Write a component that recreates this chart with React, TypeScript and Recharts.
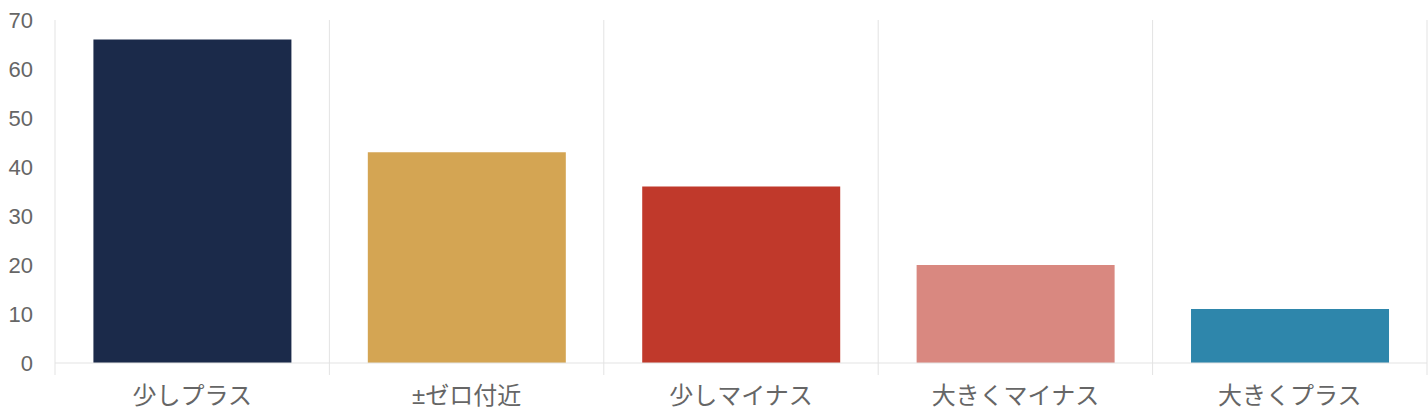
import React from 'react';
import { BarChart, Bar, XAxis, YAxis, CartesianGrid, Cell } from 'recharts';

const categories = ['少しプラス', '±ゼロ付近', '少しマイナス', '大きくマイナス', '大きくプラス'];
const counts = [66, 43, 36, 20, 11];
const colors = ['#1b2a4a', '#d4a553', '#c0392b', '#d98880', '#2e86ab'];
const yTicks = [0, 10, 20, 30, 40, 50, 60, 70];
const boundaryTicks = [0, 1, 2, 3, 4, 5];

const data = categories.map((name, i) => ({ name, count: counts[i], pos: i + 0.5 }));

const font = '"Helvetica Neue", Arial, "Liberation Sans", "Noto Sans CJK JP", sans-serif';
const gridColor = '#e3e3e3';

export default function App() {
  return (
    <div style={{ position: 'absolute', left: 0, top: 0, background: '#fff' }}>
      <BarChart
        width={1428}
        height={420}
        data={data}
        margin={{ top: 20, right: 1, bottom: 0, left: 0 }}
        barCategoryGap="14%"
      >
        <CartesianGrid xAxisId={0} horizontal={false} stroke={gridColor} strokeWidth={1} />
        {/* boundary axis: draws the axis line and tick stubs between categories */}
        <XAxis
          xAxisId={0}
          dataKey="pos"
          type="number"
          domain={[0, 5]}
          allowDataOverflow
          ticks={boundaryTicks}
          height={1}
          tick={() => <g />}
          tickSize={12}
          tickLine={{ stroke: gridColor }}
          axisLine={{ stroke: gridColor }}
        />
        <XAxis
          xAxisId={1}
          dataKey="name"
          height={56}
          tickLine={false}
          axisLine={false}
          tickSize={0}
          tickMargin={23}
          interval={0}
          tick={{ fill: '#666', fontSize: 24, fontFamily: font }}
        />
        <YAxis
          width={55}
          domain={[0, 70]}
          ticks={yTicks}
          axisLine={false}
          tickLine={false}
          tickSize={0}
          tickMargin={22}
          tick={{ fill: '#666', fontSize: 22, fontFamily: font }}
        />
        <Bar dataKey="count" xAxisId={1} isAnimationActive={false}>
          {data.map((d, i) => (
            <Cell key={d.name} fill={colors[i]} />
          ))}
        </Bar>
      </BarChart>
    </div>
  );
}
